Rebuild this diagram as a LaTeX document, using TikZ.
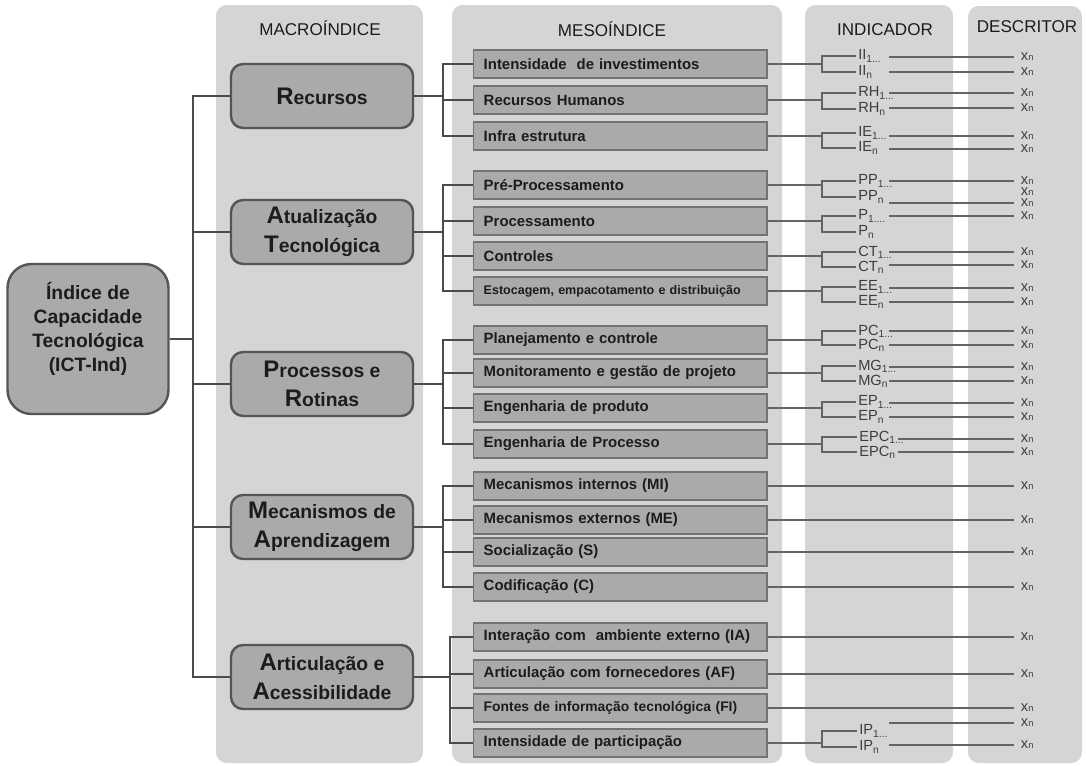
\documentclass[tikz,border=0pt]{standalone}
\usepackage{fontspec}
\setmainfont{Liberation Sans}
\usepackage{tikz}
\usetikzlibrary{positioning}
\definecolor{panelgray}{RGB}{213,213,213}
\definecolor{boxgray}{RGB}{170,170,170}
\definecolor{edgegray}{RGB}{85,85,85}
\definecolor{mesoedge}{RGB}{115,115,115}
\definecolor{linegray}{RGB}{75,75,75}
\definecolor{thingray}{RGB}{100,100,100}
\definecolor{textdark}{RGB}{28,28,28}
\newcommand{\bigini}[1]{{\fontsize{18}{22}\selectfont #1}}
\newcommand{\xn}{{\fontsize{11}{12}\selectfont x}{\fontsize{7}{8}\selectfont n}}
\tikzset{
    panel/.style={fill=panelgray, rounded corners=8pt},
    header/.style={font=\fontsize{12.8}{14}\selectfont, text=textdark},
    rootbox/.style={rectangle, rounded corners=18pt, draw=edgegray, line width=1.8pt, fill=boxgray, minimum width=120.75pt, minimum height=112.5pt, align=center, text depth=18pt, font=\fontsize{14.5}{18}\selectfont\bfseries, text=textdark},
    macrobox/.style={rectangle, rounded corners=9pt, draw=edgegray, line width=1.8pt, fill=boxgray, minimum width=136.5pt, minimum height=48pt, align=center, font=\fontsize{14.5}{22}\selectfont\bfseries, text=textdark},
    mesobox/.style={rectangle, draw=mesoedge, line width=1.1pt, fill=boxgray, anchor=west, text width=205pt, inner xsep=7.5pt, minimum height=21pt, align=left, font=\fontsize{11.2}{13}\selectfont\bfseries, text=textdark},
    indlabel/.style={anchor=west, inner sep=1.5pt, font=\fontsize{11}{12}\selectfont, text=textdark!85},
    xnlabel/.style={anchor=west, inner ysep=1pt, inner xsep=5pt, text=textdark!85},
    treeline/.style={draw=linegray, line width=2pt},
    indline/.style={draw=thingray, line width=1.1pt}
}

\begin{document}
\begin{tikzpicture}[x=0.75pt, y=-0.75pt]
    \useasboundingbox (0,0) rectangle (1086,765);

    % Column panels
    \fill[panel] (216,5) rectangle (423,763);
    \fill[panel] (452,5) rectangle (782,763);
    \fill[panel] (805,5) rectangle (953,763);
    \fill[panel] (968,6) rectangle (1082,763);

    % Headers
    \node[header] (hmacro) at (320,28) {MACROÍNDICE};
    \node[header] (hmeso) at (612,29) {MESOÍNDICE};
    \node[header] (hind) at (885,30) {INDICADOR};
    \node[header] (hdesc) at (1027,27) {DESCRITOR};

    % Root
    \node[rootbox] (root) at (88,339) {Índice de\\Capacidade\\Tecnológica\\(ICT-Ind)};

    % Macro indices
    \node[macrobox] (recursos) at (322,96) {\bigini{R}ecursos};
    \node[macrobox] (atualizacao) at (322,232) {\bigini{A}tualização\\\bigini{T}ecnológica};
    \node[macrobox] (processos) at (322,384) {\bigini{P}rocessos e\\\bigini{R}otinas};
    \node[macrobox] (mecanismos) at (322,527) {\bigini{M}ecanismos de\\\bigini{A}prendizagem};
    \node[macrobox] (articulacao) at (322,677) {\bigini{A}rticulação e\\\bigini{A}cessibilidade};

    % Meso indices
    \node[mesobox] (ii) at (473,64) {Intensidade \ de investimentos};
    \node[mesobox] (rh) at (473,100) {Recursos Humanos};
    \node[mesobox] (ie) at (473,136) {Infra estrutura};
    \node[mesobox] (pp) at (473,185) {Pré-Processamento};
    \node[mesobox] (pr) at (473,221) {Processamento};
    \node[mesobox] (ct) at (473,256) {Controles};
    \node[mesobox, font=\fontsize{9.4}{11}\selectfont\bfseries] (ee) at (473,291) {Estocagem, empacotamento e distribuição};
    \node[mesobox] (pc) at (473,340) {Planejamento e controle};
    \node[mesobox] (mg) at (473,373) {Monitoramento e gestão de projeto};
    \node[mesobox] (ep) at (473,408) {Engenharia de produto};
    \node[mesobox] (epr) at (473,444) {Engenharia de Processo};
    \node[mesobox] (mi) at (473,486) {Mecanismos internos (MI)};
    \node[mesobox] (me) at (473,520) {Mecanismos externos (ME)};
    \node[mesobox] (so) at (473,552) {Socialização (S)};
    \node[mesobox] (co) at (473,587) {Codificação (C)};
    \node[mesobox] (ia) at (473,637) {Interação com \ ambiente externo (IA)};
    \node[mesobox] (af) at (473,674) {Articulação com fornecedores (AF)};
    \node[mesobox, font=\fontsize{10.4}{12}\selectfont\bfseries] (fi) at (473,708) {Fontes de informação tecnológica (FI)};
    \node[mesobox] (ip) at (473,743) {Intensidade de participação};

    % Branch points
    \coordinate (trunk) at (193,0);
    \coordinate (br) at (443,0);
    \coordinate (brlast) at (450,0);
    \coordinate (bx) at (822,0);
    \coordinate (lstart) at (889,0);
    \coordinate (lstartb) at (898,0);

    % Root to macro
    \draw[treeline] (root.east) -- (trunk |- root.east);
    \draw[treeline] (recursos.west) -| (trunk |- articulacao.west) -- (articulacao.west);
    \foreach \m in {atualizacao,processos,mecanismos}
        \draw[treeline] (trunk |- \m.west) -- (\m.west);

    % Macro to meso
    \draw[treeline] (ii.west) -| (br |- ie.west) -- (ie.west);
    \draw[treeline] (pp.west) -| (br |- ee.west) -- (ee.west);
    \draw[treeline] (pc.west) -| (br |- epr.west) -- (epr.west);
    \draw[treeline] (mi.west) -| (br |- co.west) -- (co.west);
    \draw[treeline] (ia.west) -| (brlast |- ip.west) -- (ip.west);
    \foreach \s in {rh,pr,ct,mg,ep,me,so}
        \draw[treeline] (br |- \s.west) -- (\s.west);
    \foreach \s in {af,fi}
        \draw[treeline] (brlast |- \s.west) -- (\s.west);
    \draw[treeline] (recursos.east) -- (br |- recursos.east);
    \draw[treeline] (atualizacao.east) -- (br |- atualizacao.east);
    \draw[treeline] (processos.east) -- (br |- processos.east);
    \draw[treeline] (mecanismos.east) -- (br |- mecanismos.east);
    \draw[treeline] (articulacao.east) -- (brlast |- articulacao.east);

    % Indicators
    \node[indlabel] (ii1) at (856,56) {II\textsubscript{1...}};
    \node[indlabel] (iin) at (856,72) {II\textsubscript{n}};
    \node[indlabel] (rh1) at (856,93) {RH\textsubscript{1...}};
    \node[indlabel] (rhn) at (856,109) {RH\textsubscript{n}};
    \node[indlabel] (ie1) at (856,133) {IE\textsubscript{1...}};
    \node[indlabel] (ien) at (856,148) {IE\textsubscript{n}};
    \node[indlabel] (pp1) at (856,181) {PP\textsubscript{1...}};
    \node[indlabel] (ppn) at (856,197) {PP\textsubscript{n}};
    \node[indlabel] (pr1) at (856,216) {P\textsubscript{1....}};
    \node[indlabel] (prn) at (856,232) {P\textsubscript{n}};
    \node[indlabel] (ct1) at (856,252) {CT\textsubscript{1...}};
    \node[indlabel] (ctn) at (856,267) {CT\textsubscript{n}};
    \node[indlabel] (ee1) at (856,287) {EE\textsubscript{1...}};
    \node[indlabel] (een) at (856,302) {EE\textsubscript{n}};
    \node[indlabel] (pc1) at (856,331) {PC\textsubscript{1...}};
    \node[indlabel] (pcn) at (856,345) {PC\textsubscript{n}};
    \node[indlabel] (mg1) at (856,366) {MG\textsubscript{1...}};
    \node[indlabel] (mgn) at (856,381) {MG\textsubscript{n}};
    \node[indlabel] (ep1) at (856,402) {EP\textsubscript{1...}};
    \node[indlabel] (epn) at (856,417) {EP\textsubscript{n}};
    \node[indlabel] (epr1) at (857,437) {EPC\textsubscript{1...}};
    \node[indlabel] (eprn) at (857,452) {EPC\textsubscript{n}};
    \node[indlabel] (ip1) at (857,731) {IP\textsubscript{1...}};
    \node[indlabel] (ipn) at (857,747) {IP\textsubscript{n}};

    % Brackets
    \foreach \s in {ii,rh,ie,pp,pr,ct,ee,pc,mg,ep,epr,ip} {
        \draw[indline] (\s.east) -- (bx |- \s.east);
        \draw[indline] (\s1.west) -| (bx |- \s.east) |- (\s n.west);
    }

    % Descriptors
    \node[xnlabel] (xii1) at (1014,57) {\xn};
    \node[xnlabel] (xiin) at (1014,72) {\xn};
    \node[xnlabel] (xrh1) at (1014,93) {\xn};
    \node[xnlabel] (xrhn) at (1014,108) {\xn};
    \node[xnlabel] (xie1) at (1014,136) {\xn};
    \node[xnlabel] (xien) at (1014,149) {\xn};
    \node[xnlabel] (xpp1) at (1014,181) {\xn};
    \node[xnlabel] (xppx) at (1014,192) {\xn};
    \node[xnlabel] (xppn) at (1014,203) {\xn};
    \node[xnlabel] (xpr1) at (1014,216) {\xn};
    \node[xnlabel] (xct1) at (1014,252) {\xn};
    \node[xnlabel] (xctn) at (1014,265) {\xn};
    \node[xnlabel] (xee1) at (1014,288) {\xn};
    \node[xnlabel] (xeen) at (1014,302) {\xn};
    \node[xnlabel] (xpc1) at (1014,331) {\xn};
    \node[xnlabel] (xpcn) at (1014,345) {\xn};
    \node[xnlabel] (xmg1) at (1014,367) {\xn};
    \node[xnlabel] (xmgn) at (1014,381) {\xn};
    \node[xnlabel] (xep1) at (1014,403) {\xn};
    \node[xnlabel] (xepn) at (1014,417) {\xn};
    \node[xnlabel] (xepr1) at (1014,439) {\xn};
    \node[xnlabel] (xeprn) at (1014,452) {\xn};
    \node[xnlabel] (xip1) at (1014,723) {\xn};
    \node[xnlabel] (xipn) at (1014,745) {\xn};
    \foreach \s in {ii1,iin,rh1,rhn,ie1,ien,pp1,ppn,pr1,ct1,ctn,ee1,een,pc1,pcn,mg1,mgn,ep1,epn,ip1,ipn}
        \draw[indline] (lstart |- x\s) -- (x\s);
    \foreach \s in {epr1,eprn}
        \draw[indline] (lstartb |- x\s) -- (x\s);

    % Meso to descriptor
    \foreach \s/\y in {mi/486,me/520,so/552,co/587,ia/637,af/674,fi/708} {
        \node[xnlabel] (x\s) at (1014,\y) {\xn};
        \draw[indline] (\s) -- (x\s);
    }
\end{tikzpicture}
\end{document}
